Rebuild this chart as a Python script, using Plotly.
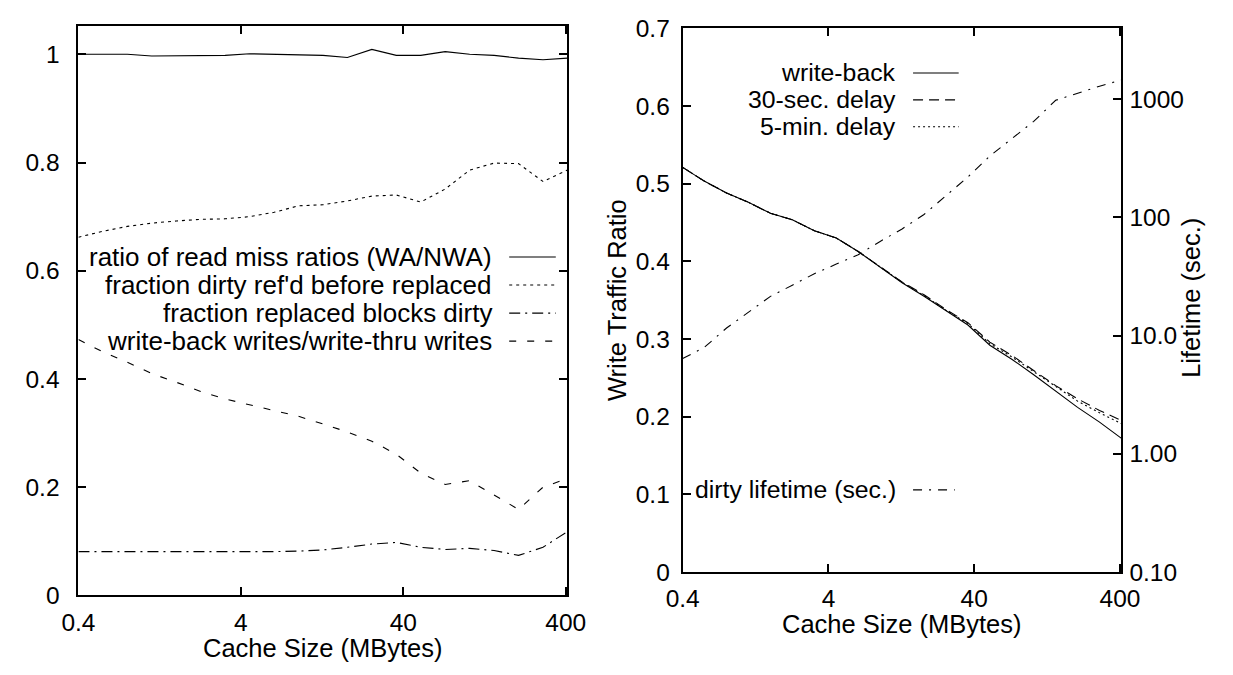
import math
import plotly.graph_objects as go

# ---- data -------------------------------------------------------------
# cache sizes (MBytes), stepping by a factor of sqrt(2)
cache_mb = [0.4, 0.566, 0.8, 1.13, 1.6, 2.26, 3.2, 4.53, 6.4, 9.05, 12.8,
            18.1, 25.6, 36.2, 51.2, 72.4, 102.4, 144.8, 204.8, 289.6, 409.6]

# left panel: write-allocate vs. no-write-allocate statistics
miss_ratio_ratio = [1.000, 1.000, 1.000, 0.997, 0.997, 0.998, 0.998, 1.001,
                    1.000, 0.999, 0.998, 0.994, 1.009, 0.998, 0.998, 1.005,
                    1.000, 0.998, 0.993, 0.990, 0.993]
dirty_refd = [0.662, 0.673, 0.682, 0.688, 0.692, 0.695, 0.696, 0.700, 0.708,
              0.720, 0.722, 0.729, 0.738, 0.740, 0.727, 0.751, 0.786, 0.799,
              0.798, 0.765, 0.786]
replaced_dirty = [0.081, 0.081, 0.081, 0.080, 0.080, 0.080, 0.080, 0.080,
                  0.081, 0.082, 0.084, 0.089, 0.095, 0.098, 0.089, 0.085,
                  0.087, 0.083, 0.074, 0.089, 0.118]
wb_over_wt = [0.473, 0.450, 0.431, 0.410, 0.394, 0.377, 0.363, 0.352, 0.341,
              0.331, 0.317, 0.302, 0.285, 0.261, 0.226, 0.205, 0.212, 0.185,
              0.159, 0.200, 0.216]

# right panel: write traffic ratio and dirty lifetime
write_back = [0.521, 0.503, 0.488, 0.476, 0.462, 0.4535, 0.4395, 0.430,
              0.4127, 0.393, 0.3725, 0.355, 0.336, 0.318, 0.292, 0.274,
              0.254, 0.233, 0.212, 0.193, 0.172]
delay_30s = [0.521, 0.503, 0.488, 0.476, 0.462, 0.4535, 0.4395, 0.430,
             0.4127, 0.393, 0.3735, 0.357, 0.338, 0.321, 0.296, 0.279,
             0.260, 0.240, 0.223, 0.208, 0.195]
delay_5min = [0.521, 0.503, 0.488, 0.476, 0.462, 0.4535, 0.4395, 0.430,
              0.4127, 0.393, 0.373, 0.356, 0.337, 0.320, 0.294, 0.277,
              0.258, 0.238, 0.220, 0.205, 0.191]
dirty_lifetime = [6.4, 8.0, 11.6, 15.8, 21.5, 26.7, 33.4, 40.3, 48.3, 62.7,
                  80, 106, 153, 220, 331, 465, 650, 980, 1130, 1290, 1455]

x_ticks = [0.4, 4, 40, 400]
x_tick_text = ["0.4", "4", "40", "400"]
left_y_ticks = [0, 0.2, 0.4, 0.6, 0.8, 1.0]
left_y_text = ["0", "0.2", "0.4", "0.6", "0.8", "1"]
ratio_ticks = [0, 0.1, 0.2, 0.3, 0.4, 0.5, 0.6, 0.7]
ratio_text = ["0", "0.1", "0.2", "0.3", "0.4", "0.5", "0.6", "0.7"]
life_ticks = [0.1, 1, 10, 100, 1000]
life_text = ["0.10", "1.00", "10.0", "100", "1000"]

left_names = ["ratio of read miss ratios (WA/NWA)",
              "fraction dirty ref'd before replaced",
              "fraction replaced blocks dirty",
              "write-back writes/write-thru writes"]
right_names = ["write-back", "30-sec. delay", "5-min. delay"]
lifetime_name = "dirty lifetime (sec.)"

# ---- styling ----------------------------------------------------------
W, H = 1233, 675
FONT = "Liberation Sans, Arial, Helvetica, sans-serif"
TICK_FS = 24.5
KEY_FS_LEFT = 26
KEY_FS_RIGHT = 24.8
TITLE_FS = 25.5
INK = "black"

left_dashes = ["solid", "3px,4px", "11px,5px,2px,5px", "7px,11px"]
right_dashes = ["solid", "10px,6px", "2px,3px"]
life_dash = "9px,7px,2px,7px"


def px_x(v):
    return v / W


def px_y(v):
    return 1 - v / H


fig = go.Figure()

left_series = [miss_ratio_ratio, dirty_refd, replaced_dirty, wb_over_wt]
for name, ys, dash in zip(left_names, left_series, left_dashes):
    fig.add_trace(go.Scatter(x=cache_mb, y=ys, name=name, mode="lines",
                             line=dict(color=INK, width=1.1, dash=dash),
                             xaxis="x", yaxis="y", showlegend=False))

right_series = [write_back, delay_30s, delay_5min]
for name, ys, dash in zip(right_names, right_series, right_dashes):
    fig.add_trace(go.Scatter(x=cache_mb, y=ys, name=name, mode="lines",
                             line=dict(color=INK, width=1.1, dash=dash),
                             xaxis="x2", yaxis="y2", showlegend=False))

fig.add_trace(go.Scatter(x=cache_mb, y=dirty_lifetime, name=lifetime_name,
                         mode="lines",
                         line=dict(color=INK, width=1.1, dash=life_dash),
                         xaxis="x2", yaxis="y3", showlegend=False))

axis_common = dict(showgrid=False, zeroline=False, showline=True,
                   linecolor=INK, linewidth=2, ticks="inside", ticklen=8,
                   tickwidth=1.5, tickcolor=INK,
                   tickfont=dict(family=FONT, size=TICK_FS, color=INK))

x_range = [math.log10(0.4), math.log10(409.6)]

fig.update_layout(
    width=W, height=H,
    margin=dict(l=0, r=0, t=0, b=0),
    paper_bgcolor="white", plot_bgcolor="white",
    showlegend=False,
    font=dict(family=FONT, size=TICK_FS, color=INK),
    xaxis=dict(axis_common, type="log", range=x_range,
               domain=[px_x(63.3), px_x(567)], anchor="y",
               tickvals=x_ticks, ticktext=x_tick_text, mirror="ticks",
               ticklabelstandoff=4),
    yaxis=dict(axis_common, range=[0, 1.0515],
               domain=[px_y(606.7), px_y(14)], anchor="x",
               tickvals=left_y_ticks, ticktext=left_y_text, mirror="ticks",
               ticklabelstandoff=12),
    xaxis2=dict(axis_common, type="log", range=x_range,
                domain=[px_x(685.7), px_x(1137.7)], anchor="y2",
                tickvals=x_ticks, ticktext=x_tick_text, mirror="ticks",
                ticklabelstandoff=4),
    yaxis2=dict(axis_common, range=[0, 0.7],
                domain=[px_y(582.3), px_y(16)], anchor="x2",
                tickvals=ratio_ticks, ticktext=ratio_text,
                ticklabelstandoff=6),
    yaxis3=dict(axis_common, type="log", range=[-1, 3.6],
                overlaying="y2", side="right", anchor="x2",
                tickvals=life_ticks, ticktext=life_text,
                ticklabelstandoff=1),
)

annotations = []
shapes = []


def legend_row(text, text_right, y, x0, x1, dash, size):
    annotations.append(dict(text=text, x=px_x(text_right), y=px_y(y),
                            xref="paper", yref="paper", xanchor="right",
                            yanchor="middle", showarrow=False, borderpad=0,
                            font=dict(family=FONT, size=size, color=INK)))
    shapes.append(dict(type="line", xref="paper", yref="paper",
                       x0=px_x(x0), x1=px_x(x1), y0=px_y(y), y1=px_y(y),
                       line=dict(color=INK, width=1.1, dash=dash)))


# left panel key (rows spaced so the text boxes do not touch)
LEFT_STEP = 29.2
for i, (name, dash) in enumerate(zip(left_names, left_dashes)):
    legend_row(name, 490, 298.0 + LEFT_STEP * (i - 1.5), 507, 555, dash,
               KEY_FS_LEFT)

# right panel keys
RIGHT_STEP = 28.0
for i, (name, dash) in enumerate(zip(right_names, right_dashes)):
    legend_row(name, 906.6, 90.5 + RIGHT_STEP * (i - 1), 923, 970, dash,
               KEY_FS_RIGHT)
legend_row(lifetime_name, 906.6, 496.7, 923, 966, life_dash, KEY_FS_RIGHT)

# axis titles
titles = [
    ("Cache Size (MBytes)", 315, 661, 0),
    ("Cache Size (MBytes)", 911.7, 636, 0),
    ("Write Traffic Ratio", 618, 299, -90),
    ("Lifetime (sec.)", 1209, 297, -90),
]
for text, x, y, ang in titles:
    annotations.append(dict(text=text, x=px_x(x), y=px_y(y), xref="paper",
                            yref="paper", xanchor="center", yanchor="middle",
                            textangle=ang, showarrow=False, borderpad=0,
                            font=dict(family=FONT, size=TITLE_FS, color=INK)))

fig.update_layout(annotations=annotations, shapes=shapes)

fig.write_html("out.html")
